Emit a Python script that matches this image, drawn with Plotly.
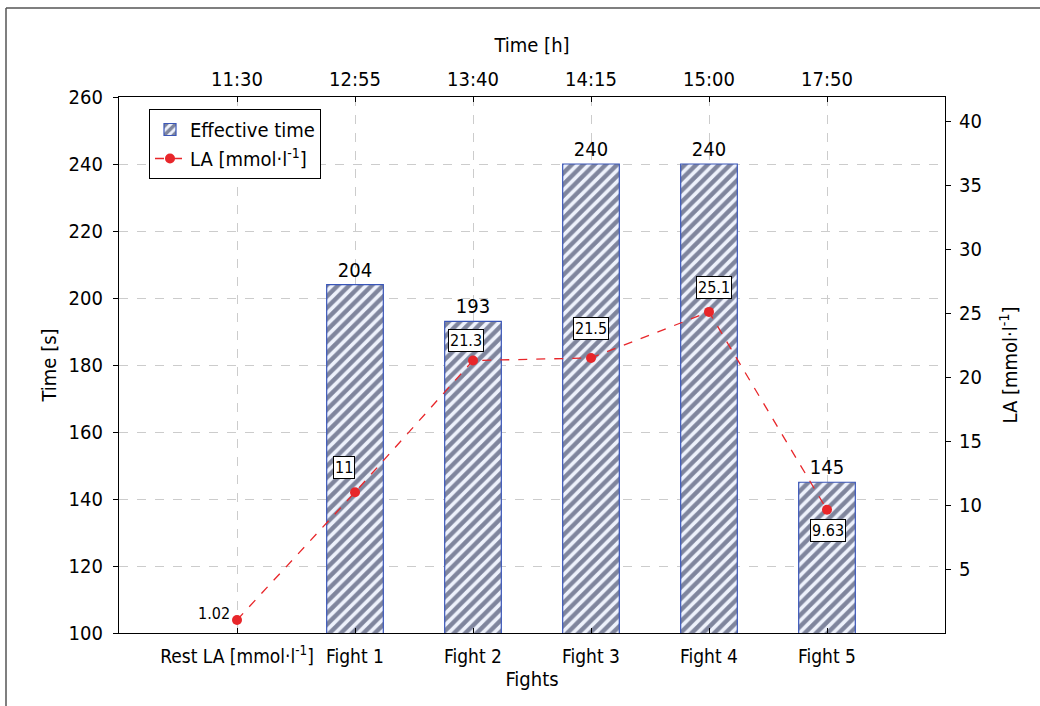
import plotly.graph_objects as go

categories = ["Rest LA [mmol·l<sup>-1</sup>]", "Fight 1", "Fight 2", "Fight 3", "Fight 4", "Fight 5"]
times_h = ["11:30", "12:55", "13:40", "14:15", "15:00", "17:50"]
effective_time = [None, 204, 193, 240, 240, 145]
la_values = [1.02, 11, 21.3, 21.5, 25.1, 9.63]
la_labels = ["1.02", "11", "21.3", "21.5", "25.1", "9.63"]
# label offsets (px) relative to each LA point
label_dx = [-23, -11, -7, 0, 5, 1]
label_dy = [6, 25, 20, 29, 24, -21]
label_boxed = [False, True, True, True, True, True]

FONT = "DejaVu Sans Condensed, Liberation Sans Narrow, Arial Narrow, sans-serif"

fig = go.Figure()

fig.add_trace(go.Bar(
    x=categories, y=effective_time,
    name="Effective time",
    width=0.48,
    marker=dict(color="#eef2fc",
                line=dict(color="#3a56b8", width=1.2),
                pattern=dict(shape="/", fgcolor="#10173d", bgcolor="#eef2fc",
                             size=8, solidity=0.55)),
    text=[("" if v is None else str(v)) for v in effective_time],
    textposition="outside", cliponaxis=False,
    textfont=dict(size=20, color="black", family=FONT),
    yaxis="y", xaxis="x",
))

fig.add_trace(go.Scatter(
    x=categories, y=la_values, name="LA [mmol·l<sup>-1</sup>]",
    mode="lines+markers",
    line=dict(color="#e8262a", width=1.3, dash="dash"),
    marker=dict(color="#e8262a", size=10),
    yaxis="y2", xaxis="x",
))

# invisible trace to carry top time axis
fig.add_trace(go.Scatter(
    x=times_h, y=[None] * len(times_h), xaxis="x2", yaxis="y",
    showlegend=False, hoverinfo="skip", mode="markers",
))

for cat, v, lab, dx, dy, boxed in zip(categories, la_values, la_labels, label_dx, label_dy, label_boxed):
    fig.add_annotation(
        x=cat, y=v, xref="x", yref="y2", text=lab, showarrow=False,
        xshift=dx, yshift=dy,
        font=dict(size=16, color="black", family=FONT),
        bgcolor="white" if boxed else "rgba(0,0,0,0)",
        bordercolor="black" if boxed else "rgba(0,0,0,0)",
        borderwidth=1, borderpad=1,
    )

L, R, T, B = 119, 95, 97, 73
W, H = 1040, 706
pw, ph = W - L - R, H - T - B

def px_x(p):
    return (p - L) / pw

def px_y(p):
    return (H - B - p) / ph

# outer partial frame (top and left lines)
fig.add_shape(type="line", xref="paper", yref="paper",
              x0=px_x(6), x1=px_x(1045), y0=px_y(8), y1=px_y(8),
              line=dict(color="#555555", width=1.5))
fig.add_shape(type="line", xref="paper", yref="paper",
              x0=px_x(6), x1=px_x(6), y0=px_y(8), y1=px_y(710),
              line=dict(color="#555555", width=1.5))

axis_font = dict(size=20, color="black", family=FONT)
xtick_font = dict(size=19, color="black", family=FONT)
grid = dict(showgrid=True, gridcolor="#cccccc", griddash="dash", gridwidth=1)

fig.update_layout(
    width=W, height=H,
    margin=dict(l=L, r=R, t=T, b=B, autoexpand=False),
    paper_bgcolor="white", plot_bgcolor="white",
    font=dict(family=FONT, color="black", size=20),
    showlegend=True,
    legend=dict(x=px_x(149), y=px_y(109), xanchor="left", yanchor="top",
                bordercolor="black", borderwidth=1, bgcolor="white",
                font=dict(size=20, family=FONT), tracegroupgap=0,
                itemwidth=30),
    xaxis=dict(type="category", categoryorder="array", categoryarray=categories,
               range=[-1, 6], showline=True, linecolor="black", linewidth=1.2,
               ticks="inside", ticklen=5, tickcolor="black",
               tickfont=xtick_font, automargin=False, ticklabelstandoff=6,
               title=dict(text="Fights", font=axis_font, standoff=6),
               **grid, zeroline=False),
    xaxis2=dict(type="category", categoryorder="array", categoryarray=times_h,
                range=[-1, 6], overlaying="x", side="top", anchor="y",
                showline=True, linecolor="black", linewidth=1.2,
                ticks="inside", ticklen=5, tickcolor="black",
                tickfont=axis_font, showgrid=False, automargin=False,
                ticklabelstandoff=2,
                title=dict(text="Time [h]", font=axis_font, standoff=8)),
    yaxis=dict(range=[100, 260], dtick=20, showline=True, linecolor="black",
               linewidth=1.2, ticks="outside", ticklen=5, tickcolor="black",
               tickfont=axis_font, zeroline=False, automargin=False,
               ticklabelstandoff=6,
               title=dict(text="Time [s]", font=axis_font, standoff=6),
               **grid),
    yaxis2=dict(range=[0, 41.9], tickvals=[5, 10, 15, 20, 25, 30, 35, 40],
                overlaying="y", side="right", anchor="x",
                showline=True, linecolor="black", linewidth=1.2,
                ticks="outside", ticklen=5, tickcolor="black",
                tickfont=axis_font, showgrid=False, zeroline=False,
                automargin=False, ticklabelstandoff=4,
                title=dict(text="LA [mmol·l<sup>-1</sup>]", font=axis_font, standoff=22)),
)

fig.write_html("out.html", config={"displayModeBar": False},
               post_script="document.body.style.margin='0';")
